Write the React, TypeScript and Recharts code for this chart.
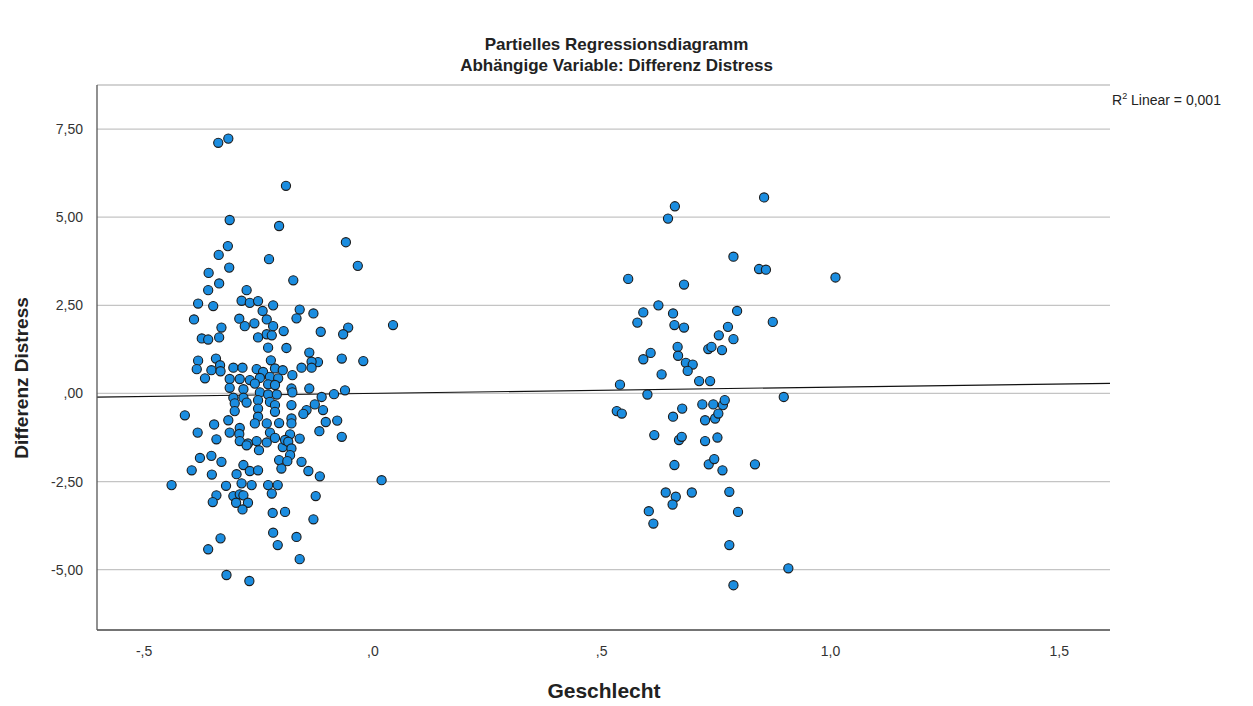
import React from 'react';
import { ScatterChart, Scatter, XAxis, YAxis, CartesianGrid, ReferenceLine } from 'recharts';

// Partial residuals, group around -0.3 (left cloud)
const leftX = [
  -0.338, -0.316, -0.190, -0.313, -0.205, -0.059, -0.317, -0.337, -0.227, -0.314,
  -0.359, -0.033, -0.174, -0.336, -0.360, -0.276, -0.382, -0.349, -0.287, -0.269,
  -0.251, -0.218, -0.241, -0.160, -0.130, -0.167, -0.292, -0.232, -0.391, -0.280,
  -0.259, -0.331, -0.218, -0.195, -0.114, -0.054, -0.065, 0.044, -0.374, -0.360,
  -0.336, -0.251, -0.232, -0.221, -0.229, -0.189, -0.139, -0.382, -0.343, -0.223,
  -0.068, -0.021, -0.120, -0.385, -0.334, -0.353, -0.333, -0.367, -0.305, -0.285,
  -0.254, -0.240, -0.214, -0.197, -0.313, -0.291, -0.269, -0.247, -0.225, -0.207,
  -0.258, -0.313, -0.283, -0.229, -0.214, -0.305, -0.283, -0.247, -0.229, -0.210,
  -0.302, -0.276, -0.251, -0.225, -0.214, -0.302, -0.251, -0.214, -0.411, -0.316,
  -0.251, -0.258, -0.232, -0.347, -0.205, -0.291, -0.383, -0.313, -0.292, -0.225,
  -0.342, -0.273, -0.254, -0.291, -0.232, -0.249, -0.214, -0.197, -0.276, -0.378,
  -0.353, -0.331, -0.396, -0.283, -0.269, -0.251, -0.205, -0.200, -0.352, -0.134,
  -0.156, -0.134, -0.176, -0.178, -0.176, -0.139, -0.112, -0.085, -0.061, -0.178,
  -0.127, -0.145, -0.152, -0.109, -0.178, -0.178, -0.103, -0.078, -0.181, -0.160,
  -0.117, -0.068, -0.192, -0.185, -0.178, -0.181, -0.187, -0.156, -0.141, -0.116,
  -0.440, -0.298, -0.321, -0.287, -0.265, -0.229, -0.208, -0.342, -0.350, -0.305,
  -0.291, -0.283, -0.299, -0.273, -0.285, -0.221, -0.219, -0.192, -0.218, -0.208,
  -0.333, -0.360, -0.320, -0.270, 0.019, -0.125, -0.130, -0.167, -0.160,
];
const leftY = [
  7.11, 7.23, 5.89, 4.92, 4.75, 4.29, 4.18, 3.93, 3.81, 3.57,
  3.42, 3.62, 3.21, 3.12, 2.93, 2.93, 2.55, 2.48, 2.63, 2.57,
  2.62, 2.50, 2.34, 2.38, 2.27, 2.13, 2.12, 2.10, 2.10, 1.91,
  1.99, 1.87, 1.91, 1.77, 1.75, 1.87, 1.68, 1.94, 1.56, 1.53,
  1.59, 1.59, 1.68, 1.65, 1.30, 1.29, 1.16, 0.93, 0.99, 0.94,
  0.99, 0.92, 0.89, 0.69, 0.80, 0.66, 0.63, 0.43, 0.73, 0.73,
  0.69, 0.61, 0.71, 0.66, 0.41, 0.41, 0.38, 0.44, 0.47, 0.43,
  0.28, 0.16, 0.12, 0.26, 0.24, -0.12, -0.12, 0.03, -0.03, -0.03,
  -0.28, -0.26, -0.19, -0.24, -0.33, -0.50, -0.43, -0.52, -0.62, -0.76,
  -0.66, -0.85, -0.85, -0.88, -0.84, -0.98, -1.11, -1.11, -1.15, -1.11,
  -1.30, -1.42, -1.35, -1.35, -1.39, -1.61, -1.26, -1.52, -1.47, -1.83,
  -1.77, -1.94, -2.18, -2.03, -2.20, -2.18, -1.89, -2.13, -2.30, 0.90,
  0.73, 0.73, 0.52, 0.14, 0.03, 0.14, -0.10, -0.02, 0.09, -0.33,
  -0.31, -0.47, -0.58, -0.47, -0.71, -0.85, -0.81, -0.77, -1.16, -1.28,
  -1.07, -1.23, -1.32, -1.37, -1.56, -1.75, -1.92, -1.94, -2.20, -2.35,
  -2.60, -2.29, -2.62, -2.55, -2.60, -2.60, -2.60, -2.89, -3.08, -2.91,
  -2.86, -2.89, -3.10, -3.10, -3.29, -2.84, -3.39, -3.36, -3.95, -4.30,
  -4.11, -4.42, -5.15, -5.32, -2.46, -2.91, -3.57, -4.07, -4.70,
];

// Partial residuals, group around 0.7 (right cloud)
const rightX = [
  0.660, 0.645, 0.558, 0.680, 0.624, 0.591, 0.578, 0.656, 0.659, 0.680,
  0.756, 0.776, 0.607, 0.591, 0.666, 0.667, 0.684, 0.699, 0.688, 0.733,
  0.740, 0.763, 0.631, 0.713, 0.737, 0.540, 0.855, 0.788, 0.844, 0.859,
  1.011, 0.796, 0.874, 0.788, 0.600, 0.533, 0.544, 0.656, 0.676, 0.720,
  0.744, 0.765, 0.769, 0.726, 0.748, 0.755, 0.615, 0.669, 0.675, 0.726,
  0.753, 0.659, 0.734, 0.746, 0.764, 0.640, 0.662, 0.655, 0.697, 0.603,
  0.613, 0.898, 0.835, 0.779, 0.798, 0.779, 0.908, 0.788,
];
const rightY = [
  5.31, 4.96, 3.25, 3.09, 2.50, 2.30, 2.01, 2.27, 1.94, 1.87,
  1.65, 1.89, 1.15, 0.97, 1.32, 1.07, 0.87, 0.82, 0.64, 1.26,
  1.32, 1.23, 0.54, 0.35, 0.35, 0.25, 5.56, 3.88, 3.53, 3.51,
  3.29, 2.34, 2.03, 1.54, -0.03, -0.50, -0.57, -0.66, -0.43, -0.31,
  -0.31, -0.33, -0.19, -0.76, -0.71, -0.57, -1.18, -1.32, -1.23, -1.35,
  -1.25, -2.03, -2.01, -1.86, -2.18, -2.81, -2.93, -3.15, -2.81, -3.34,
  -3.69, -0.10, -2.01, -2.79, -3.36, -4.30, -4.96, -5.44,
];

const xTicks = [-0.5, 0, 0.5, 1.0, 1.5];
const yTicks = [-5, -2.5, 0, 2.5, 5, 7.5];
const xDomain = [-0.603, 1.611];
const yDomain = [-6.71, 8.75];

// linear fit, R² = 0,001
const fitIntercept = 0.002;
const fitSlope = 0.178;

const points = [
  ...leftX.map((x, i) => ({ x, y: leftY[i] })),
  ...rightX.map((x, i) => ({ x, y: rightY[i] })),
];

// SPSS style numbers: comma decimal, no leading zero
const spss = (v: number, digits: number) => {
  const s = v.toFixed(digits).replace('.', ',');
  return s.replace(/^0,/, ',').replace(/^-0,/, '-,');
};

const font = '"Liberation Sans", Arial, sans-serif';

const Dot = (props: any) => {
  const { cx, cy } = props;
  return <circle cx={cx} cy={cy} r={4.6} fill="#1b8de0" stroke="#1c1c1c" strokeWidth={1.1} />;
};

export default function App() {
  return (
    <div style={{ position: 'absolute', left: 0, top: 0, width: 1253, height: 706, background: '#fff', fontFamily: font }}>
      <div style={{ position: 'absolute', top: 35, left: 0, width: 1233, textAlign: 'center', fontWeight: 'bold', fontSize: 17, color: '#222' }}>
        Partielles Regressionsdiagramm
      </div>
      <div style={{ position: 'absolute', top: 56, left: 0, width: 1233, textAlign: 'center', fontWeight: 'bold', fontSize: 17, color: '#222' }}>
        Abhängige Variable: Differenz Distress
      </div>
      <div style={{ position: 'absolute', top: 91, left: 1112, fontSize: 14, color: '#222', whiteSpace: 'nowrap' }}>
        R<sup style={{ fontSize: 9 }}>2</sup> Linear = 0,001
      </div>
      <div
        style={{
          position: 'absolute', left: 22, top: 378, transform: 'translate(-50%, -50%) rotate(-90deg)',
          fontWeight: 'bold', fontSize: 19, color: '#222', whiteSpace: 'nowrap',
        }}
      >
        Differenz Distress
      </div>
      <div style={{ position: 'absolute', top: 679, left: 0, width: 1208, textAlign: 'center', fontWeight: 'bold', fontSize: 21, color: '#222' }}>
        Geschlecht
      </div>
      <ScatterChart width={1253} height={706} margin={{ top: 85, right: 143, bottom: 0, left: 0 }}>
        <CartesianGrid horizontal vertical={false} stroke="#c4c4c4" strokeWidth={1.3} />
        <XAxis
          type="number"
          dataKey="x"
          domain={xDomain}
          ticks={xTicks}
          allowDataOverflow
          height={76}
          tickLine={false}
          axisLine={{ stroke: '#555', strokeWidth: 1.3 }}
          tick={{ fill: '#333', fontSize: 14, fontFamily: font }}
          tickMargin={10}
          tickFormatter={(v: number) => spss(v, 1)}
        />
        <YAxis
          type="number"
          dataKey="y"
          domain={yDomain}
          ticks={yTicks}
          allowDataOverflow
          width={97}
          tickLine={false}
          axisLine={{ stroke: '#555', strokeWidth: 1.3 }}
          tick={{ fill: '#333', fontSize: 14, fontFamily: font }}
          tickMargin={8}
          tickFormatter={(v: number) => spss(v, 2)}
        />
        <ReferenceLine
          segment={[
            { x: xDomain[0], y: fitIntercept + fitSlope * xDomain[0] },
            { x: xDomain[1], y: fitIntercept + fitSlope * xDomain[1] },
          ]}
          stroke="#111"
          strokeWidth={1.2}
        />
        <Scatter data={points} shape={Dot} isAnimationActive={false} />
      </ScatterChart>
    </div>
  );
}
